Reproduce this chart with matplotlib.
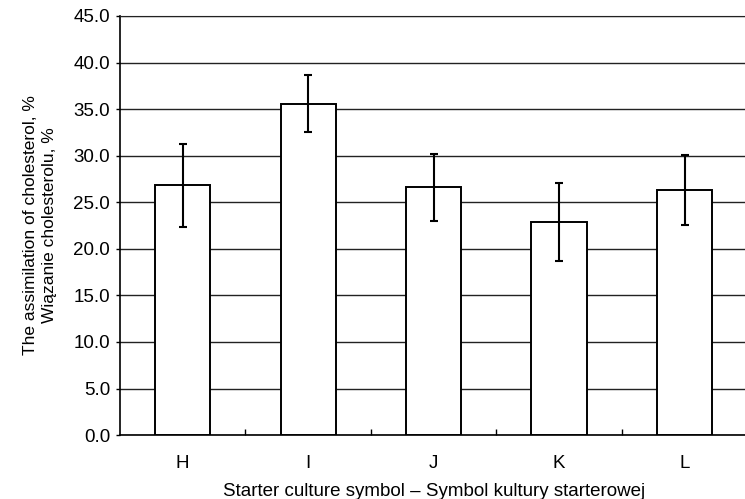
import numpy as np
import matplotlib
matplotlib.use("Agg")
import matplotlib.pyplot as plt

plt.rcParams["font.family"] = ["Liberation Sans", "DejaVu Sans"]

# Werte
cultures = ["H", "I", "J", "K", "L"]
assimilation = [26.8, 35.6, 26.6, 22.9, 26.3]
errors = [4.5, 3.1, 3.6, 4.2, 3.75]
y_ticks = np.arange(0, 45.1, 5)

fig = plt.figure(figsize=(7.45, 4.99), dpi=100)
ax = fig.add_axes([0.161, 0.128, 0.842, 0.84])

x = np.arange(len(cultures))
ax.bar(x, assimilation, width=0.44, color="white", edgecolor="black",
       linewidth=1.4, zorder=3)
ax.errorbar(x, assimilation, yerr=errors, fmt="none", ecolor="black",
            elinewidth=1.5, capsize=3, capthick=1.5, zorder=4)

ax.set_xlim(-0.5, 4.5)
ax.set_ylim(0, 45)
ax.set_yticks(y_ticks)
ax.set_yticklabels([f"{v:.1f}" for v in y_ticks], fontsize=13.5)
ax.yaxis.grid(True, color="#222222", linewidth=1.0, zorder=0)
ax.set_axisbelow(True)

# Kategorien mittig, kleine Striche an den Grenzen
ax.set_xticks(x)
ax.set_xticklabels(cultures, fontsize=13.5)
ax.tick_params(axis="x", which="major", length=0, pad=14)
ax.set_xticks(np.arange(0.5, 4.5, 1), minor=True)
ax.tick_params(axis="x", which="minor", direction="in", length=4, width=1)
ax.tick_params(axis="y", direction="out", length=3, width=1, pad=4)

ax.spines["right"].set_visible(False)
ax.spines["top"].set_color("#222222")
for s in ["left", "bottom"]:
    ax.spines[s].set_linewidth(1.2)

ax.set_ylabel("The assimilation of cholesterol, %\nWiązanie cholesterolu, %",
              fontsize=12.5, labelpad=12, linespacing=1.35)
ax.set_xlabel("Starter culture symbol – Symbol kultury starterowej",
              fontsize=13.5, labelpad=8)

plt.savefig("out.png", dpi=100)
